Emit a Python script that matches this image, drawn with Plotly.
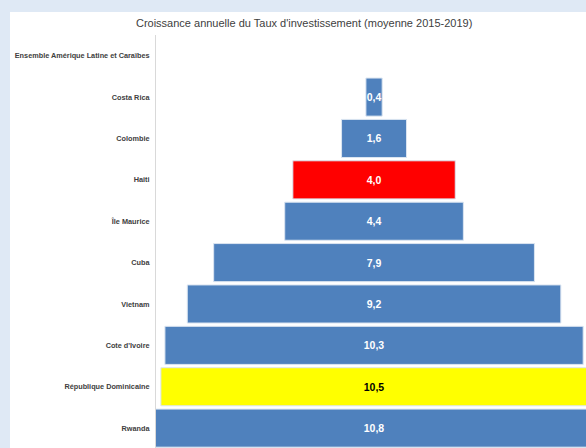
import plotly.graph_objects as go

categories = ["Ensemble Amérique Latine et Caraïbes", "Costa Rica", "Colombie", "Haiti",
              "Île Maurice", "Cuba", "Vietnam", "Cote d'Ivoire",
              "République Dominicaine", "Rwanda"]
values = [None, 0.4, 1.6, 4.0, 4.4, 7.9, 9.2, 10.3, 10.5, 10.8]
colors = ["#4f81bd", "#4f81bd", "#4f81bd", "#ff0000", "#4f81bd", "#4f81bd",
          "#4f81bd", "#4f81bd", "#ffff00", "#4f81bd"]
text_colors = ["white", "white", "white", "white", "white", "white",
               "white", "white", "black", "white"]
title = "Croissance annuelle du Taux d'investissement (moyenne 2015-2019)"

labels = ["" if v is None else f"{v:.1f}".replace(".", ",") for v in values]
bases = [None if v is None else -v / 2 for v in values]

fig = go.Figure(go.Bar(
    y=categories, x=values, base=bases, orientation="h",
    marker=dict(color=colors, line=dict(color="#dbe5f1", width=1)),
    text=labels, textposition="inside", insidetextanchor="middle", textangle=0,
    textfont=dict(family="Liberation Sans", size=10.5, color=text_colors, weight="bold"),
    constraintext="none", cliponaxis=True,
))

fig.update_layout(
    width=586, height=448,
    margin=dict(l=156, r=0, t=35, b=0),
    paper_bgcolor="#dfe9f5", plot_bgcolor="white",
    bargap=0.08, showlegend=False,
    uniformtext=dict(minsize=10.5, mode="show"),
    title=dict(text=title, x=0.519, xanchor="center", y=0.949, yanchor="middle",
               font=dict(family="Liberation Sans", size=11, color="#404040")),
    xaxis=dict(range=[-5.37, 5.22], visible=False, fixedrange=True),
    yaxis=dict(range=[9.48, -0.5], showline=True, linecolor="#d9d9d9", linewidth=1,
               showgrid=False, ticks="", ticklabelstandoff=4,
               tickfont=dict(family="Liberation Sans", size=7.3, color="#404040", weight="bold")),
    shapes=[dict(type="rect", xref="paper", yref="paper", x0=-0.3395, x1=1.1,
                 y0=-0.1, y1=1.0557, fillcolor="white", line=dict(width=0), layer="below")],
)

fig.write_html("out.html")
